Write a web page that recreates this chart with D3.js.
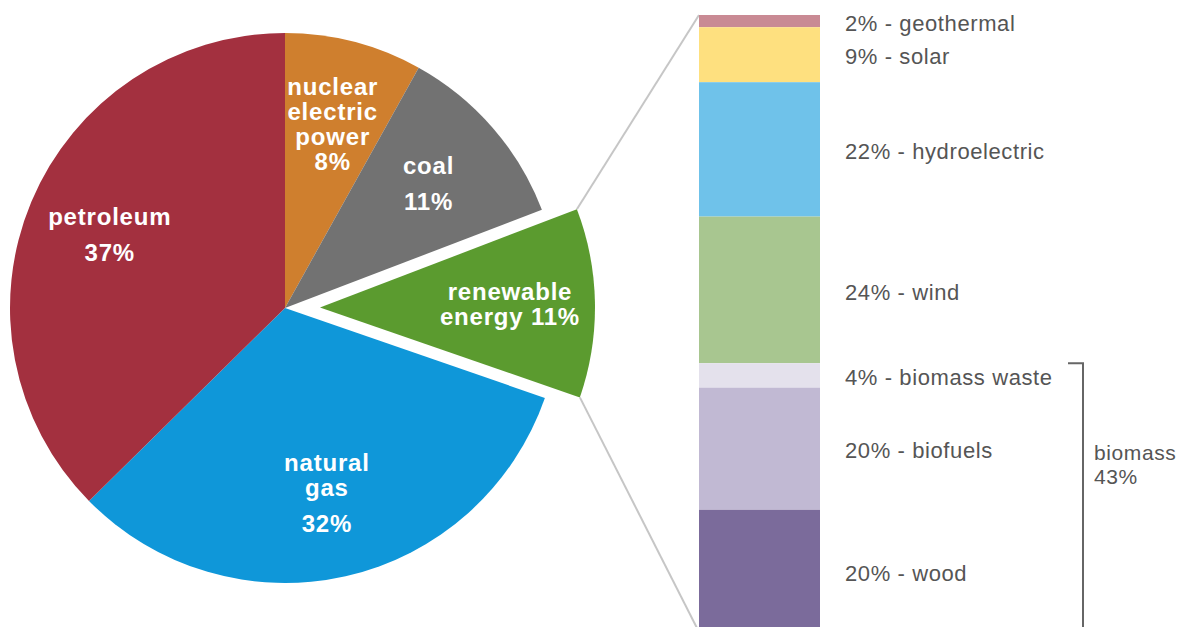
<!DOCTYPE html>
<html lang="en">
<head>
<meta charset="UTF-8">
<title>Energy consumption by source</title>
<script src="https://cdnjs.cloudflare.com/ajax/libs/d3/7.8.5/d3.min.js"></script>
<style>
  body { margin: 0; background: #fff; font-family: "Liberation Sans", Arial, sans-serif; }
  svg { display: block; }
  .slice-label { fill: #fff; font-weight: bold; font-size: 24px; letter-spacing: 0.8px; text-anchor: middle; }
  .bar-label { fill: #555; font-size: 22px; letter-spacing: 0.6px; }
  .group-label { fill: #555; font-size: 21px; letter-spacing: 0.6px; }
  .connector { stroke: #c6c6c6; stroke-width: 2; fill: none; }
  .bracket { stroke: #666; stroke-width: 2; fill: none; }
</style>
</head>
<body>
<svg width="1189" height="627"></svg>
<script>
// main pie: share of total consumption (%)
const sources = ["nuclear electric power", "coal", "renewable energy", "natural gas", "petroleum"];
const shares = [8, 11, 11, 32, 37];
const sliceLabels = [
  ["nuclear", "electric", "power", "8%"],
  ["coal", "11%"],
  ["renewable", "energy 11%"],
  ["natural", "gas", "32%"],
  ["petroleum", "37%"]
];

// breakdown of the renewable slice (%)
const renewables = ["geothermal", "solar", "hydroelectric", "wind", "biomass waste", "biofuels", "wood"];
const renewableShares = [2, 9, 22, 24, 4, 20, 20];
const biomassParts = ["biomass waste", "biofuels", "wood"];
const biomassLabel = ["biomass", "43%"];

const sliceColors = ["#cf7f2e", "#727272", "#5b9b2f", "#0f97d9", "#a3303f"];
const barColors = ["#c98a94", "#fee07f", "#6fc2ea", "#a8c690", "#e4e1ec", "#c1b9d3", "#7b6b9b"];

const svg = d3.select("svg");
const cx = 285, cy = 308, R = 275;
const explodeBy = 35;
const exploded = "renewable energy";

const pie = d3.pie().sort(null).value(d => d.value);
const arc = d3.arc().innerRadius(0).outerRadius(R);
const labelArc = d3.arc().innerRadius(190).outerRadius(190);

const slices = pie(sources.map((s, i) => ({ name: s, value: shares[i], lines: sliceLabels[i] })));

function offsetOf(d) {
  if (d.data.name !== exploded) return [0, 0];
  const mid = (d.startAngle + d.endAngle) / 2;
  return [explodeBy * Math.sin(mid), -explodeBy * Math.cos(mid)];
}

const pieG = svg.append("g").attr("transform", `translate(${cx},${cy})`);

pieG.selectAll("path.slice")
  .data(slices)
  .join("path")
  .attr("class", "slice")
  .attr("fill", (d, i) => sliceColors[i])
  .attr("transform", d => `translate(${offsetOf(d)})`)
  .attr("d", arc);

// labels: percentage line sits a bit lower than the name lines
const nameGap = 25, pctGap = 36, capH = 17;
pieG.selectAll("text.slice-label")
  .data(slices)
  .join("text")
  .attr("class", "slice-label")
  .each(function (d) {
    const [ox, oy] = offsetOf(d);
    const [lx, ly] = labelArc.centroid(d);
    const lines = d.data.lines;
    const gaps = lines.slice(1).map((l, j) =>
      (j === lines.length - 2 && /^\d+%$/.test(l) && lines.length < 4) ? pctGap : nameGap);
    const span = d3.sum(gaps);
    let y = ly + oy - (span - capH) / 2;
    const t = d3.select(this);
    lines.forEach((l, j) => {
      if (j > 0) y += gaps[j - 1];
      t.append("tspan").attr("x", lx + ox).attr("y", y).text(l);
    });
  });

// stacked bar for the renewable breakdown
const barX = 699, barW = 121;
const total = d3.sum(renewableShares);
const yScale = d3.scaleLinear().domain([0, total]).range([15, 632]);

let acc = 0;
const segs = renewables.map((name, i) => {
  const s = { name, value: renewableShares[i], y0: acc, y1: acc + renewableShares[i] };
  acc += renewableShares[i];
  return s;
});

// connector lines from the exploded slice to the bar
const rs = slices.find(d => d.data.name === exploded);
const [ox, oy] = offsetOf(rs);
const corner = a => [cx + ox + R * Math.sin(a), cy + oy - R * Math.cos(a)];
const topC = corner(rs.startAngle), botC = corner(rs.endAngle);
svg.append("line").attr("class", "connector")
  .attr("x1", topC[0]).attr("y1", topC[1]).attr("x2", barX).attr("y2", yScale(0));
svg.append("line").attr("class", "connector")
  .attr("x1", botC[0]).attr("y1", botC[1]).attr("x2", barX).attr("y2", yScale(total));

svg.selectAll("rect.seg")
  .data(segs)
  .join("rect")
  .attr("class", "seg")
  .attr("x", barX)
  .attr("width", barW)
  .attr("y", d => yScale(d.y0))
  .attr("height", d => yScale(d.y1) - yScale(d.y0))
  .attr("fill", (d, i) => barColors[i]);

svg.selectAll("text.bar-label")
  .data(segs)
  .join("text")
  .attr("class", "bar-label")
  .attr("x", barX + barW + 25)
  .attr("y", d => (yScale(d.y0) + yScale(d.y1)) / 2 + 2)
  .attr("dy", "0.35em")
  .text(d => `${d.value}% - ${d.name}`);

// bracket grouping the biomass entries
const bioSegs = segs.filter(d => biomassParts.includes(d.name));
const bTop = yScale(d3.min(bioSegs, d => d.y0));
const bBot = yScale(d3.max(bioSegs, d => d.y1));
const bx = 1083;
svg.append("path").attr("class", "bracket")
  .attr("d", `M${bx - 15},${bTop}H${bx}V${bBot}H${bx - 15}`);

const fuels = segs.find(d => d.name === "biofuels");
const fy = (yScale(fuels.y0) + yScale(fuels.y1)) / 2;
svg.append("text").attr("class", "group-label")
  .selectAll("tspan")
  .data(biomassLabel)
  .join("tspan")
  .attr("x", bx + 11)
  .attr("y", (d, i) => fy + 11 + i * 24)
  .text(d => d);
</script>
</body>
</html>
